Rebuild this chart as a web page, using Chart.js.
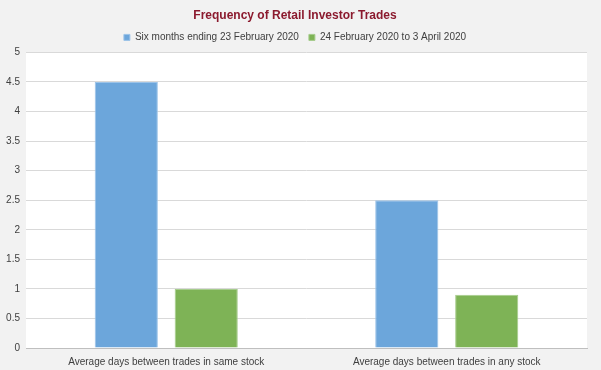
<!DOCTYPE html>
<html lang="en">
<head>
  <meta charset="UTF-8" />
  <title>Frequency of Retail Investor Trades</title>
  <script src="https://cdn.jsdelivr.net/npm/chart.js"></script>
  <style>
    html, body { margin: 0; padding: 0; background: #f2f2f2; }
    .wrap { width: 601px; height: 370px; }
  </style>
</head>
<body>
  <div class="wrap">
    <canvas id="chart" width="601" height="370"></canvas>
  </div>

  <script>
    const categories = ["Average days between trades in same stock", "Average days between trades in any stock"];
    const seriesNames = ["Six months ending 23 February 2020", "24 February 2020 to 3 April 2020"];
    const sixMonths = [4.5, 2.5];
    const crisisPeriod = [1.0, 0.9];
    const yTicks = [0, 0.5, 1, 1.5, 2, 2.5, 3, 3.5, 4, 4.5, 5];

    const FONT = "'Liberation Sans Narrow', 'Arial Narrow', 'Liberation Sans', sans-serif";

    // white plot area on grey page, like the Excel original
    const plotBg = {
      id: "plotBg",
      beforeDraw(chart) {
        const a = chart.chartArea;
        const ctx = chart.ctx;
        ctx.save();
        ctx.fillStyle = "#ffffff";
        ctx.fillRect(a.left, a.top, a.right - a.left, a.bottom - a.top);
        ctx.restore();
      }
    };

    new Chart(document.getElementById("chart"), {
      type: "bar",
      data: {
        labels: categories,
        datasets: [
          {
            label: seriesNames[0],
            data: sixMonths,
            backgroundColor: "#6ca6db",
            borderColor: "#9cc3e8",
            borderWidth: 1,
            categoryPercentage: 0.57,
            barPercentage: 0.79
          },
          {
            label: seriesNames[1],
            data: crisisPeriod,
            backgroundColor: "#7eb356",
            borderColor: "#a6cc8c",
            borderWidth: 1,
            categoryPercentage: 0.57,
            barPercentage: 0.79
          }
        ]
      },
      options: {
        responsive: false,
        animation: false,
        layout: { padding: { left: 3, right: 14, top: 5, bottom: 2 } },
        scales: {
          x: {
            grid: { display: false },
            border: { color: "#bfbfbf" },
            ticks: { color: "#404040", font: { family: FONT, size: 10 }, padding: 0 }
          },
          y: {
            min: 0,
            max: 5,
            afterBuildTicks(axis) {
              axis.ticks = yTicks.map(v => ({ value: v }));
            },
            afterFit(axis) { axis.width = 23; },
            grid: { color: "#d9d9d9", drawTicks: false },
            border: { display: false },
            ticks: {
              color: "#404040",
              font: { family: FONT, size: 10 },
              padding: 6,
              callback: v => String(v)
            }
          }
        },
        plugins: {
          title: {
            display: true,
            text: "Frequency of Retail Investor Trades",
            color: "#8b1a2e",
            font: { family: FONT, size: 12, weight: "bold" },
            padding: { top: 3, bottom: 0 }
          },
          legend: {
            labels: {
              color: "#404040",
              font: { family: FONT, size: 10 },
              boxWidth: 6,
              boxHeight: 6,
              padding: 10
            }
          },
          tooltip: { enabled: false }
        }
      },
      plugins: [plotBg]
    });
  </script>
</body>
</html>
